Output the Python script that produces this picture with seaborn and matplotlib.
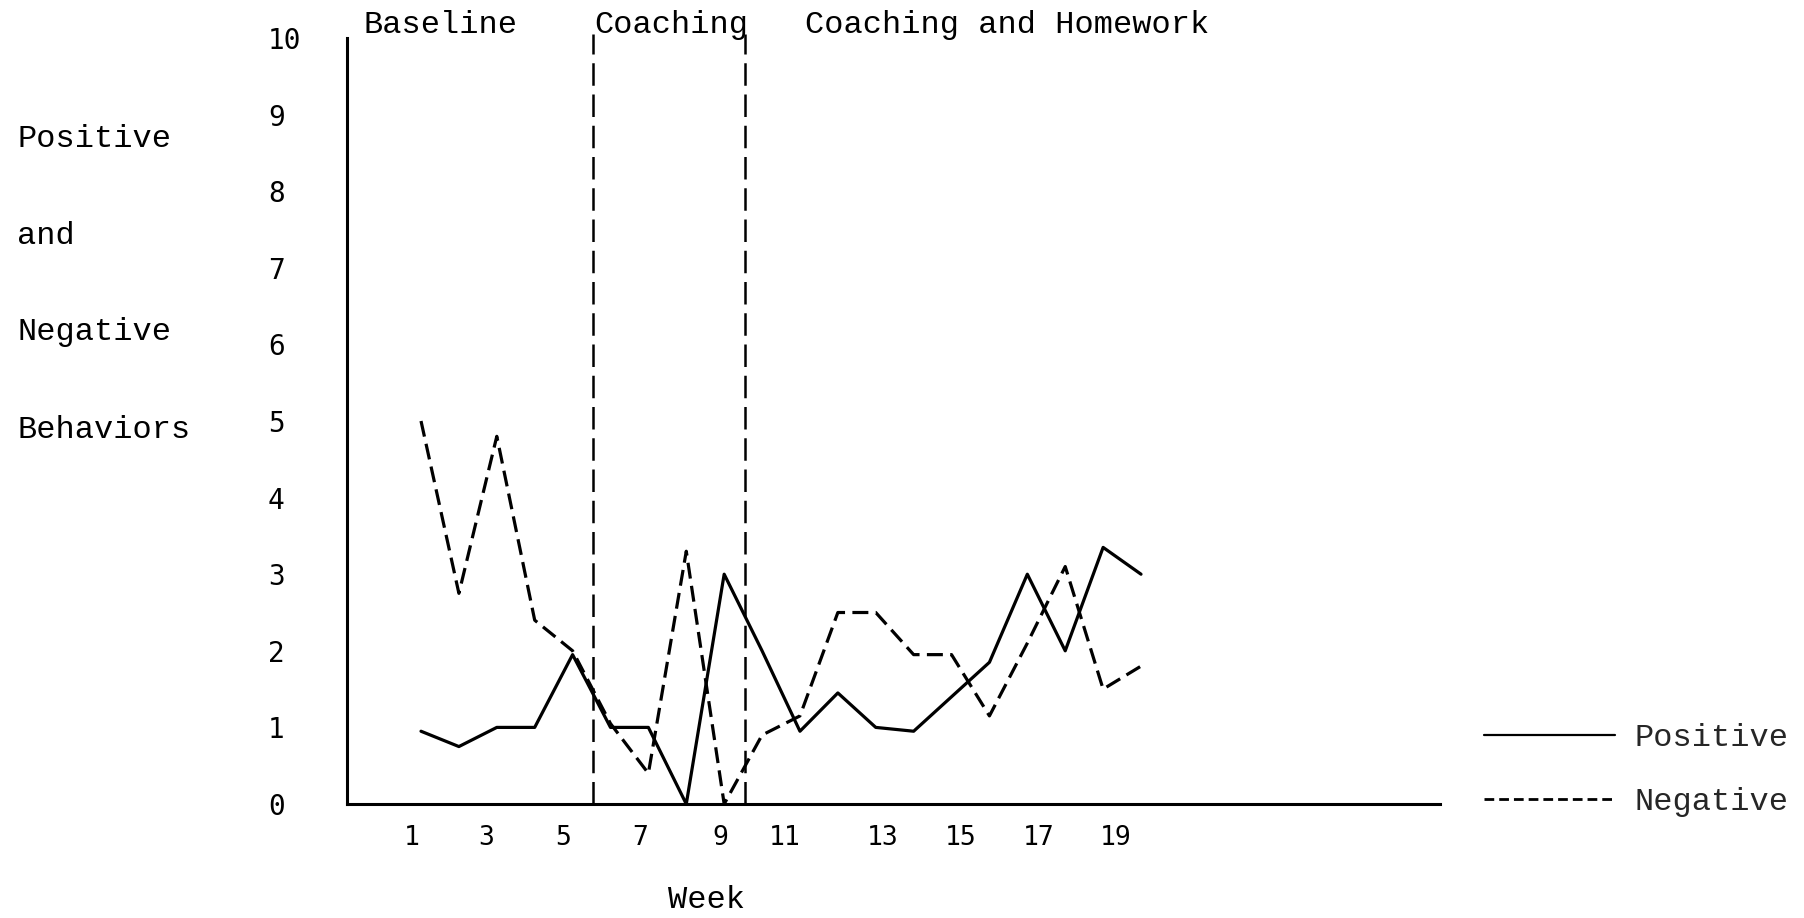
import numpy as np
import pandas as pd
import seaborn as sns
import matplotlib
matplotlib.use("Agg")
import matplotlib.pyplot as plt
from matplotlib.lines import Line2D

# Weekly counts of positive and negative behaviors
weeks = list(range(1, 21))
positive = [0.95, 0.75, 1.0, 1.0, 1.95, 1.0, 1.0, 0.0, 3.0, 2.0,
            0.95, 1.45, 1.0, 0.95, 1.4, 1.85, 3.0, 2.0, 3.35, 3.0]
negative = [5.0, 2.75, 4.8, 2.4, 2.0, 1.05, 0.4, 3.3, 0.0, 0.9,
            1.15, 2.5, 2.5, 1.95, 1.95, 1.15, 2.1, 3.1, 1.5, 1.8]

# Phase boundaries (in weeks) and phase names
phase_changes = [5.55, 9.55]
phase_names = ["Baseline", "Coaching", "Coaching and Homework"]

y_ticks = list(range(0, 11))
x_tick_labels = ["1", "3", "5", "7", "9", "11", "13", "15", "17", "19"]
label_weeks = [1, 3, 5, 7, 9, 11, 13, 15, 17, 19]

series_names = ["Positive", "Negative"]
y_words = ["Positive", "and", "Negative", "Behaviors"]

df = pd.DataFrame({
    "Week": weeks * 2,
    "Count": positive + negative,
    "Behavior": ["Positive"] * len(weeks) + ["Negative"] * len(weeks),
})

sns.set_style("white")
plt.rcParams["font.family"] = ["Liberation Mono", "DejaVu Sans Mono"]

TYPE = "Liberation Mono"
TICKFONT = "DejaVu Sans Mono"

fig = plt.figure(figsize=(18.04, 9.18), dpi=100)
ax = fig.add_axes([0.19235, 0.12418, 0.60588, 0.83442])

line_w = 2.3
sns.lineplot(data=df, x="Week", y="Count", style="Behavior",
             style_order=series_names,
             dashes={"Positive": "", "Negative": (5, 2.3)},
             color="black", linewidth=line_w, legend=False, ax=ax)

# phase change lines
ax.vlines(phase_changes, 0, 10.05, colors="black", linewidth=1.8,
          linestyles=(0, (9, 3.5)), clip_on=False, zorder=3)

ax.set_xlim(-0.953, 27.89)
ax.set_ylim(0, 10)

for side in ["top", "right"]:
    ax.spines[side].set_visible(False)
for side in ["left", "bottom"]:
    ax.spines[side].set_color("black")
    ax.spines[side].set_linewidth(2.2)

# y axis: ticks with left-aligned numerals
ax.set_yticks(y_ticks)
ax.set_yticklabels([str(v) for v in y_ticks], fontfamily=TICKFONT, fontsize=20)
ax.tick_params(axis="y", direction="out", length=4, width=1.5, pad=53,
               colors="black")
for lab in ax.get_yticklabels():
    lab.set_horizontalalignment("left")

# x axis: a tick for every week, numerals set slightly off the ticks
label_nudge = [-0.24, -0.29, -0.24, -0.21, -0.11, -0.40, 0.18, 0.24, 0.29, 0.32]
ax.set_xticks(weeks)
ax.set_xticklabels([])
ax.set_xticks([w + d for w, d in zip(label_weeks, label_nudge)], minor=True)
ax.set_xticklabels(x_tick_labels, minor=True, fontfamily=TICKFONT, fontsize=19)
ax.tick_params(axis="x", which="major", direction="out", length=4, width=1.5,
               colors="black")
ax.tick_params(axis="x", which="minor", length=0, pad=15, colors="black")

ax.set_xlabel("")
ax.set_ylabel("")

# phase titles across the top
fs = 23
for name, xpx in zip(phase_names, [363, 594, 805]):
    fig.text(xpx / 1804, 1 - 25 / 918, name, fontfamily=TYPE, fontsize=fs,
             ha="left", va="center", color="black")

# stacked y-axis title
for word, ypx in zip(y_words, [139, 236, 332, 430]):
    fig.text(17 / 1804, 1 - ypx / 918, word, fontfamily=TYPE, fontsize=fs,
             ha="left", va="center", color="black")

fig.text(707 / 1804, 1 - 900 / 918, "Week", fontfamily=TYPE, fontsize=fs,
         ha="center", va="center", color="black")

# legend
handles = [
    Line2D([], [], color="black", linewidth=1.6),
    Line2D([], [], color="black", linewidth=2.0, linestyle=(0, (3.5, 1.8))),
]
fig.legend(handles, series_names, loc="center left",
           bbox_to_anchor=(1484 / 1804, 1 - 770 / 918),
           frameon=False, prop={"family": TYPE, "size": fs},
           handlelength=4.1, handletextpad=0.6, labelspacing=1.05,
           borderpad=0, borderaxespad=0)

fig.savefig("out.png", dpi=100, facecolor="white")
